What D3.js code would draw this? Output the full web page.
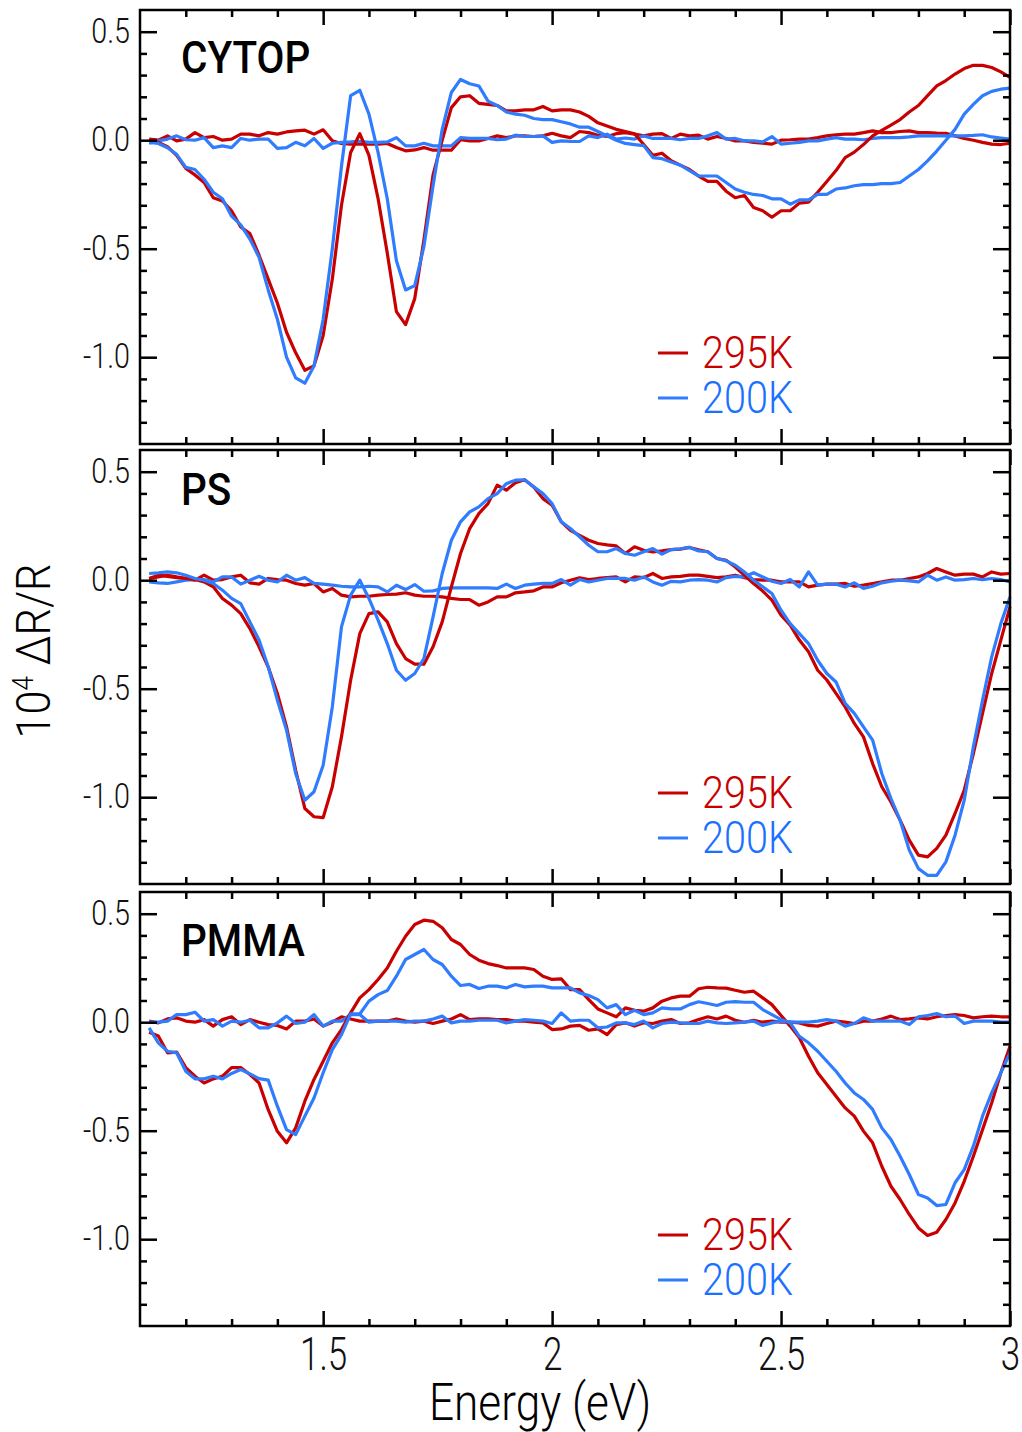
<!DOCTYPE html>
<html>
<head>
<meta charset="utf-8">
<script src="https://cdn.jsdelivr.net/npm/d3@7"></script>
<style>
  body { margin: 0; background: #fff; }
  svg text { font-family: Roboto, "DejaVu Sans", sans-serif; }
</style>
</head>
<body>
<div id="chart"></div>
<script>
// photon energy (eV), one point every 0.02 eV
const energy = [1.12, 1.14, 1.16, 1.18, 1.20, 1.22, 1.24, 1.26, 1.28, 1.30,
  1.32, 1.34, 1.36, 1.38, 1.40, 1.42, 1.44, 1.46, 1.48, 1.50,
  1.52, 1.54, 1.56, 1.58, 1.60, 1.62, 1.64, 1.66, 1.68, 1.70,
  1.72, 1.74, 1.76, 1.78, 1.80, 1.82, 1.84, 1.86, 1.88, 1.90, 1.92,
  1.94, 1.96, 1.98, 2.00, 2.02, 2.04, 2.06, 2.08, 2.10, 2.12,
  2.14, 2.16, 2.18, 2.20, 2.22, 2.24, 2.26, 2.28, 2.30, 2.32,
  2.34, 2.36, 2.38, 2.40, 2.42, 2.44, 2.46, 2.48, 2.50, 2.52,
  2.54, 2.56, 2.58, 2.60, 2.62, 2.64, 2.66, 2.68, 2.70, 2.72,
  2.74, 2.76, 2.78, 2.80, 2.82, 2.84, 2.86, 2.88, 2.90, 2.92,
  2.94, 2.96, 2.98, 3.00];

// CYTOP
const cytop295 = [0.00, -0.01, -0.03, -0.07, -0.13, -0.16, -0.195, -0.265, -0.28, -0.325,
  -0.40, -0.43, -0.53, -0.64, -0.75, -0.885, -0.98, -1.06, -1.04, -0.90,
  -0.64, -0.30, -0.057, 0.03, -0.07, -0.27, -0.52, -0.79, -0.85, -0.73,
  -0.46, -0.16, 0.00, 0.15, 0.20, 0.205, 0.17, 0.165, 0.16, 0.135, 0.135,
  0.14, 0.14, 0.155, 0.135, 0.14, 0.14, 0.13, 0.11, 0.08, 0.065,
  0.05, 0.04, 0.03, -0.02, -0.07, -0.06, -0.095, -0.115, -0.135, -0.165,
  -0.19, -0.19, -0.235, -0.265, -0.255, -0.31, -0.325, -0.355, -0.325, -0.325,
  -0.29, -0.285, -0.24, -0.19, -0.14, -0.08, -0.055, -0.02, 0.02, 0.045,
  0.07, 0.095, 0.13, 0.16, 0.205, 0.25, 0.275, 0.305, 0.33, 0.345,
  0.345, 0.335, 0.315, 0.29];
const cytop200 = [-0.01, -0.015, -0.035, -0.065, -0.125, -0.135, -0.18, -0.24, -0.27, -0.35,
  -0.39, -0.456, -0.54, -0.69, -0.825, -1.0, -1.095, -1.12, -1.04, -0.825,
  -0.50, -0.12, 0.205, 0.23, 0.12, -0.057, -0.27, -0.556, -0.69, -0.67,
  -0.49, -0.21, 0.05, 0.22, 0.28, 0.26, 0.25, 0.18, 0.16, 0.13, 0.12,
  0.115, 0.10, 0.095, 0.095, 0.085, 0.075, 0.06, 0.06, 0.04, 0.02,
  0.00, -0.015, -0.02, -0.025, -0.08, -0.085, -0.10, -0.115, -0.14, -0.165,
  -0.165, -0.165, -0.195, -0.225, -0.24, -0.25, -0.255, -0.27, -0.27, -0.295,
  -0.275, -0.275, -0.25, -0.25, -0.225, -0.22, -0.21, -0.205, -0.205, -0.20,
  -0.20, -0.195, -0.165, -0.135, -0.095, -0.05, 0.00, 0.05, 0.12, 0.165,
  0.205, 0.225, 0.235, 0.24];
const cytop295Base = [0.005, 0.0, 0.02, -0.003, 0.005, 0.035, 0.012, 0.017, 0.0, 0.005,
  0.028, 0.028, 0.02, 0.035, 0.028, 0.038, 0.043, 0.046, 0.028, 0.048,
  -0.003, -0.015, -0.018, -0.018, -0.018, -0.018, -0.015, -0.034, -0.049, -0.045,
  -0.034, -0.046, -0.046, -0.046, 0.002, -0.003, -0.003, 0.008, 0.02, 0.012, 0.02,
  0.02, 0.017, 0.02, 0.032, 0.02, 0.012, 0.04, 0.035, 0.023, 0.017,
  0.03, 0.035, 0.028, 0.02, 0.028, 0.03, 0.008, 0.028, 0.02, 0.023,
  0.005, 0.017, 0.008, -0.003, -0.003, -0.01, -0.014, -0.018, 0.0, 0.002,
  0.005, 0.005, 0.012, 0.02, 0.025, 0.028, 0.028, 0.035, 0.043, 0.035,
  0.035, 0.04, 0.043, 0.035, 0.035, 0.033, 0.032, 0.02, 0.008, 0.0,
  -0.01, -0.018, -0.02, -0.014];
const cytop200Base = [-0.014, -0.003, 0.005, 0.02, 0.002, 0.0, 0.012, -0.034, -0.026, -0.034,
  0.008, 0.0, 0.005, 0.005, -0.038, -0.034, -0.01, -0.026, 0.008, -0.038,
  -0.014, -0.01, -0.008, -0.005, -0.01, -0.01, -0.008, 0.012, -0.026, -0.026,
  -0.014, -0.026, -0.026, -0.026, 0.012, 0.008, 0.008, 0.008, 0.002, 0.005, 0.023,
  0.017, 0.017, 0.02, -0.01, -0.003, -0.005, -0.006, 0.02, 0.012, 0.028,
  0.005, 0.01, 0.005, 0.02, 0.008, 0.008, 0.008, 0.002, 0.008, 0.008,
  0.02, 0.035, 0.005, 0.008, -0.003, -0.003, -0.008, 0.017, -0.018, -0.014,
  -0.01, -0.003, -0.003, 0.005, 0.012, 0.005, 0.005, 0.002, 0.008, 0.012,
  0.012, 0.012, 0.015, 0.02, 0.02, 0.02, 0.02, 0.02, 0.02, 0.022,
  0.025, 0.015, 0.01, 0.005];

// PS
const ps295 = [0.008, 0.023, 0.018, 0.012, 0.008, 0.003, -0.008, -0.03, -0.084, -0.115,
  -0.154, -0.223, -0.307, -0.40, -0.522, -0.676, -0.876, -1.052, -1.09, -1.094,
  -0.952, -0.722, -0.461, -0.246, -0.154, -0.146, -0.192, -0.292, -0.361, -0.387,
  -0.387, -0.307, -0.192, -0.031, 0.123, 0.238, 0.307, 0.353, 0.438, 0.415, 0.449,
  0.463, 0.43, 0.376, 0.346, 0.269, 0.23, 0.207, 0.184, 0.169, 0.163,
  0.158, 0.123, 0.154, 0.138, 0.13, 0.135, 0.141, 0.143, 0.151, 0.14,
  0.131, 0.1, 0.092, 0.061, 0.023, -0.015, -0.05, -0.092, -0.161, -0.207,
  -0.276, -0.33, -0.415, -0.46, -0.522, -0.584, -0.66, -0.722, -0.845, -0.952,
  -1.022, -1.106, -1.198, -1.267, -1.275, -1.236, -1.175, -1.075, -0.968, -0.799,
  -0.614, -0.43, -0.276, -0.123];
const ps200 = [0.031, 0.034, 0.038, 0.034, 0.023, 0.008, 0.0, -0.015, -0.046, -0.084,
  -0.108, -0.192, -0.276, -0.399, -0.553, -0.691, -0.891, -1.014, -0.975, -0.853,
  -0.584, -0.215, -0.069, 0.0, -0.084, -0.184, -0.292, -0.415, -0.461, -0.43,
  -0.361, -0.169, 0.031, 0.184, 0.269, 0.315, 0.338, 0.376, 0.399, 0.445, 0.461,
  0.463, 0.43, 0.399, 0.353, 0.269, 0.238, 0.2, 0.161, 0.131, 0.131,
  0.146, 0.123, 0.115, 0.131, 0.146, 0.12, 0.141, 0.145, 0.151, 0.135,
  0.131, 0.1, 0.089, 0.069, 0.038, 0.0, -0.03, -0.061, -0.138, -0.2,
  -0.246, -0.292, -0.369, -0.43, -0.469, -0.568, -0.614, -0.676, -0.737, -0.891,
  -1.006, -1.106, -1.244, -1.329, -1.36, -1.36, -1.298, -1.175, -1.014, -0.768,
  -0.553, -0.353, -0.2, -0.077];
const ps295Base = [0.008, 0.015, 0.023, 0.015, 0.008, 0.0, 0.023, 0.0, 0.003, 0.015,
  0.023, -0.012, -0.018, 0.008, 0.003, 0.0, -0.015, -0.023, -0.015, -0.054,
  -0.038, -0.069, -0.077, -0.074, -0.074, -0.069, -0.066, -0.064, -0.058, -0.069,
  -0.074, -0.074, -0.077, -0.084, -0.089, -0.089, -0.115, -0.1, -0.077, -0.077, -0.058,
  -0.054, -0.049, -0.031, -0.031, -0.012, 0.0, 0.011, 0.003, 0.008, 0.012,
  0.015, -0.008, 0.015, 0.012, 0.031, 0.008, 0.015, 0.018, 0.023, 0.023,
  0.018, 0.012, 0.015, 0.023, 0.012, 0.003, 0.0, 0.0, -0.008, -0.008,
  -0.008, -0.031, -0.023, -0.018, -0.018, -0.015, -0.028, -0.023, -0.015, -0.008,
  0.0, 0.0, 0.008, 0.015, 0.031, 0.054, 0.038, 0.023, 0.028, 0.028,
  0.015, 0.038, 0.028, 0.031];
const ps200Base = [-0.008, -0.012, -0.015, -0.008, 0.0, 0.003, 0.003, -0.008, 0.015, 0.015,
  -0.018, 0.0, 0.018, 0.0, -0.008, 0.023, 0.0, 0.012, -0.015, -0.018,
  -0.023, -0.028, -0.031, -0.031, -0.028, -0.031, -0.054, -0.023, -0.043, -0.02,
  -0.051, -0.049, -0.038, -0.035, -0.035, -0.035, -0.035, -0.035, -0.038, -0.018, -0.038,
  -0.023, -0.018, -0.015, -0.015, 0.003, -0.023, 0.003, -0.008, 0.0, 0.008,
  0.008, 0.008, 0.0, 0.015, -0.008, -0.023, -0.005, -0.008, 0.0, 0.003,
  0.0, -0.008, 0.012, 0.018, 0.015, 0.034, 0.015, -0.005, -0.015, 0.003,
  -0.031, 0.038, -0.023, -0.018, -0.018, -0.031, -0.012, -0.038, -0.028, -0.012,
  -0.005, 0.0, -0.003, -0.008, 0.023, 0.0, 0.015, 0.0, 0.003, 0.008,
  0.003, 0.008, 0.003, -0.008];

// PMMA
const pmma295 = [-0.046, -0.064, -0.141, -0.138, -0.209, -0.249, -0.28, -0.261, -0.249, -0.209,
  -0.209, -0.241, -0.28, -0.403, -0.503, -0.556, -0.487, -0.364, -0.264, -0.18,
  -0.095, -0.034, 0.043, 0.112, 0.15, 0.197, 0.25, 0.327, 0.396, 0.45,
  0.47, 0.465, 0.435, 0.381, 0.358, 0.312, 0.286, 0.27, 0.261, 0.25, 0.25,
  0.25, 0.243, 0.212, 0.197, 0.2, 0.15, 0.15, 0.104, 0.061, 0.043,
  0.025, 0.066, 0.055, 0.051, 0.066, 0.097, 0.112, 0.12, 0.12, 0.154,
  0.161, 0.158, 0.157, 0.147, 0.138, 0.143, 0.112, 0.081, 0.031, -0.018,
  -0.072, -0.157, -0.233, -0.287, -0.341, -0.395, -0.433, -0.502, -0.556, -0.664,
  -0.756, -0.817, -0.886, -0.948, -0.983, -0.968, -0.909, -0.833, -0.733, -0.618,
  -0.495, -0.372, -0.233, -0.111];
const pmma200 = [-0.026, -0.095, -0.134, -0.141, -0.226, -0.261, -0.261, -0.249, -0.261, -0.236,
  -0.218, -0.238, -0.26, -0.267, -0.387, -0.495, -0.518, -0.433, -0.349, -0.233,
  -0.126, -0.057, 0.038, 0.038, 0.097, 0.127, 0.146, 0.212, 0.289, 0.312,
  0.335, 0.289, 0.266, 0.212, 0.169, 0.174, 0.155, 0.166, 0.166, 0.158, 0.174,
  0.163, 0.166, 0.166, 0.158, 0.158, 0.158, 0.135, 0.123, 0.104, 0.066,
  0.081, 0.035, 0.055, 0.035, 0.043, 0.066, 0.061, 0.061, 0.081, 0.094,
  0.086, 0.077, 0.092, 0.095, 0.092, 0.092, 0.058, 0.035, 0.012, -0.003,
  -0.065, -0.095, -0.134, -0.18, -0.226, -0.28, -0.326, -0.356, -0.402, -0.487,
  -0.541, -0.618, -0.702, -0.794, -0.81, -0.845, -0.84, -0.74, -0.679, -0.571,
  -0.433, -0.326, -0.233, -0.141];
const pmma295Base = [0.005, -0.003, 0.015, 0.02, 0.005, 0.0, 0.012, -0.018, 0.012, 0.025,
  -0.011, 0.012, 0.0, -0.011, -0.015, -0.031, 0.005, 0.005, 0.015, -0.018,
  0.0, 0.025, 0.015, 0.005, 0.005, 0.005, 0.005, 0.015, 0.005, 0.0,
  0.005, -0.006, 0.005, 0.015, 0.035, 0.012, 0.015, 0.015, 0.012, 0.012, 0.005,
  0.005, 0.0, -0.003, -0.034, -0.031, -0.018, -0.015, -0.037, -0.031, -0.057,
  -0.011, -0.003, -0.018, -0.003, -0.006, 0.005, 0.012, -0.006, -0.003, 0.012,
  0.025, 0.015, 0.028, 0.009, 0.0, 0.009, 0.0, 0.005, 0.0, 0.0,
  -0.003, -0.015, -0.018, -0.006, 0.005, 0.0, -0.006, 0.005, 0.005, 0.015,
  0.028, 0.012, 0.015, 0.02, 0.015, 0.025, 0.031, 0.035, 0.031, 0.02,
  0.025, 0.028, 0.025, 0.025];
const pmma200Base = [0.0, 0.0, 0.005, 0.035, 0.035, 0.046, 0.005, 0.012, -0.018, 0.005,
  0.0, 0.009, -0.026, -0.026, -0.003, 0.028, -0.006, 0.0, 0.035, -0.018,
  0.005, 0.005, 0.035, 0.035, 0.0, 0.005, 0.005, 0.005, 0.0, 0.005,
  0.005, 0.015, 0.028, -0.003, 0.005, 0.005, 0.009, 0.009, 0.009, -0.003, 0.005,
  0.012, 0.009, 0.005, -0.006, 0.043, 0.005, 0.009, 0.009, -0.026, -0.022,
  -0.003, -0.003, -0.011, 0.005, -0.026, -0.006, 0.0, -0.003, -0.006, -0.006,
  0.005, -0.003, -0.006, -0.003, 0.0, 0.005, -0.015, -0.003, 0.005, 0.0,
  0.0, 0.0, 0.005, 0.012, 0.005, -0.018, -0.006, 0.02, 0.005, 0.005,
  0.005, 0.005, -0.011, 0.025, 0.031, 0.04, 0.025, 0.028, -0.006, 0.005,
  0.005, 0.005, 0.0, 0.0];

const panelNames = ["CYTOP", "PS", "PMMA"];
const legendLabels = ["295K", "200K"];
const xTickLabels = [1.5, 2, 2.5, 3];
const yTickLabels = [-1.0, -0.5, 0.0, 0.5];

const panelSeries = [
  [cytop295Base, cytop200Base, cytop295, cytop200],
  [ps295Base, ps200Base, ps295, ps200],
  [pmma295Base, pmma200Base, pmma295, pmma200]
];

const width = 1022
, height = 1432
, left = 140
, right = 1010
, panelHeight = 434
, panelTops = [10, 450, 892]
, labelDy = [63, 55, 64]
, red = "#c80000"
, blue = "#2f7cff"
, seriesColors = [red, blue, red, blue]
, legendColors = ["#c80000", "#1a70ff"];

const x = d3.scaleLinear().domain([1.1, 3.0]).range([left, right]);
const y = d3.scaleLinear().domain([-1.4, 0.6]).range([panelHeight, 0]);

const xMinor = d3.range(12, 30).map(i => i / 10).filter(v => xTickLabels.indexOf(v) < 0);
const yMinor = d3.range(-13, 6).map(i => i / 10).filter(v => yTickLabels.indexOf(v) < 0);

const svg = d3.select("#chart").append("svg")
  .attr("width", width)
  .attr("height", height);

const line = d3.line()
  .x((d, i) => x(energy[i]))
  .y(d => y(d));

function styleAxis(g) {
  g.select(".domain").remove();
  g.selectAll(".tick line").attr("stroke", "#000").attr("stroke-width", 2.5);
}

// squeeze text horizontally to mimic the condensed face of the original
function condense(sel, factor) {
  sel.each(function() {
    const w = this.getComputedTextLength();
    d3.select(this)
      .attr("textLength", w * factor)
      .attr("lengthAdjust", "spacingAndGlyphs");
  });
}

panelSeries.forEach((series, p) => {
  const panel = svg.append("g")
    .attr("transform", `translate(0,${panelTops[p]})`);

  // curves
  series.forEach((values, s) => {
    panel.append("path")
      .datum(values)
      .attr("d", line)
      .attr("fill", "none")
      .attr("stroke", seriesColors[s])
      .attr("stroke-width", 3.2)
      .attr("stroke-linejoin", "round");
  });

  // ticks (all pointing inward)
  panel.append("g").attr("transform", `translate(${left},0)`)
    .call(d3.axisLeft(y).tickValues(yMinor).tickSize(-7).tickFormat(""))
    .call(styleAxis);
  const yAxis = panel.append("g").attr("transform", `translate(${left},0)`)
    .call(d3.axisLeft(y).tickValues(yTickLabels).tickSize(-17).tickPadding(10)
      .tickFormat(d => d.toFixed(1)))
    .call(styleAxis);
  yAxis.selectAll("text")
    .attr("font-size", 35)
    .attr("font-family", null)
    .attr("font-weight", 300)
    .attr("dy", "0.30em")
    .attr("fill", "#111")
    .call(condense, 0.82);

  panel.append("g").attr("transform", `translate(${right},0)`)
    .call(d3.axisRight(y).tickValues(yMinor).tickSize(-7).tickFormat(""))
    .call(styleAxis);
  panel.append("g").attr("transform", `translate(${right},0)`)
    .call(d3.axisRight(y).tickValues(yTickLabels).tickSize(-17).tickFormat(""))
    .call(styleAxis);

  panel.append("g")
    .call(d3.axisTop(x).tickValues(xMinor).tickSize(-7).tickFormat(""))
    .call(styleAxis);
  panel.append("g")
    .call(d3.axisTop(x).tickValues(xTickLabels).tickSize(-15).tickFormat(""))
    .call(styleAxis);

  panel.append("g").attr("transform", `translate(0,${panelHeight})`)
    .call(d3.axisBottom(x).tickValues(xMinor).tickSize(-7).tickFormat(""))
    .call(styleAxis);
  const xAxis = panel.append("g").attr("transform", `translate(0,${panelHeight})`)
    .call(d3.axisBottom(x).tickValues(xTickLabels).tickSize(-15).tickPadding(11)
      .tickFormat(p == 2 ? d3.format("") : ""))
    .call(styleAxis);
  xAxis.selectAll("text")
    .attr("font-size", 46)
    .attr("font-family", null)
    .attr("font-weight", 300)
    .attr("fill", "#111")
    .call(condense, 0.76);

  // frame
  panel.append("rect")
    .attr("x", left)
    .attr("y", 0)
    .attr("width", right - left)
    .attr("height", panelHeight)
    .attr("fill", "none")
    .attr("stroke", "#000")
    .attr("stroke-width", 2.5);

  // panel name
  panel.append("text")
    .attr("x", 181)
    .attr("y", labelDy[p])
    .attr("font-size", 44)
    .attr("font-weight", 500)
    .text(panelNames[p])
    .call(condense, 0.92);

  // legend
  legendLabels.forEach((label, k) => {
    const ly = 343 + k * 45;
    panel.append("line")
      .attr("x1", 658).attr("x2", 688)
      .attr("y1", ly).attr("y2", ly)
      .attr("stroke", seriesColors[k])
      .attr("stroke-width", 3);
    panel.append("text")
      .attr("x", 702)
      .attr("y", ly + 15)
      .attr("font-size", 44)
      .attr("font-weight", 300)
      .attr("fill", legendColors[k])
      .text(label)
      .call(condense, 0.9);
  });
});

// axis titles
svg.append("text")
  .attr("x", 540)
  .attr("y", 1420)
  .attr("text-anchor", "middle")
  .attr("font-size", 52)
  .attr("font-weight", 300)
  .text("Energy (eV)")
  .call(condense, 0.85);

const yTitle = svg.append("text")
  .attr("transform", "translate(50,651) rotate(-90) scale(0.88,1)")
  .attr("text-anchor", "middle")
  .attr("font-size", 49)
  .attr("font-weight", 300);
yTitle.append("tspan").text("10");
yTitle.append("tspan").attr("baseline-shift", "super").attr("font-size", 30).text("4");
yTitle.append("tspan").text(" ΔR/R");
</script>
</body>
</html>
